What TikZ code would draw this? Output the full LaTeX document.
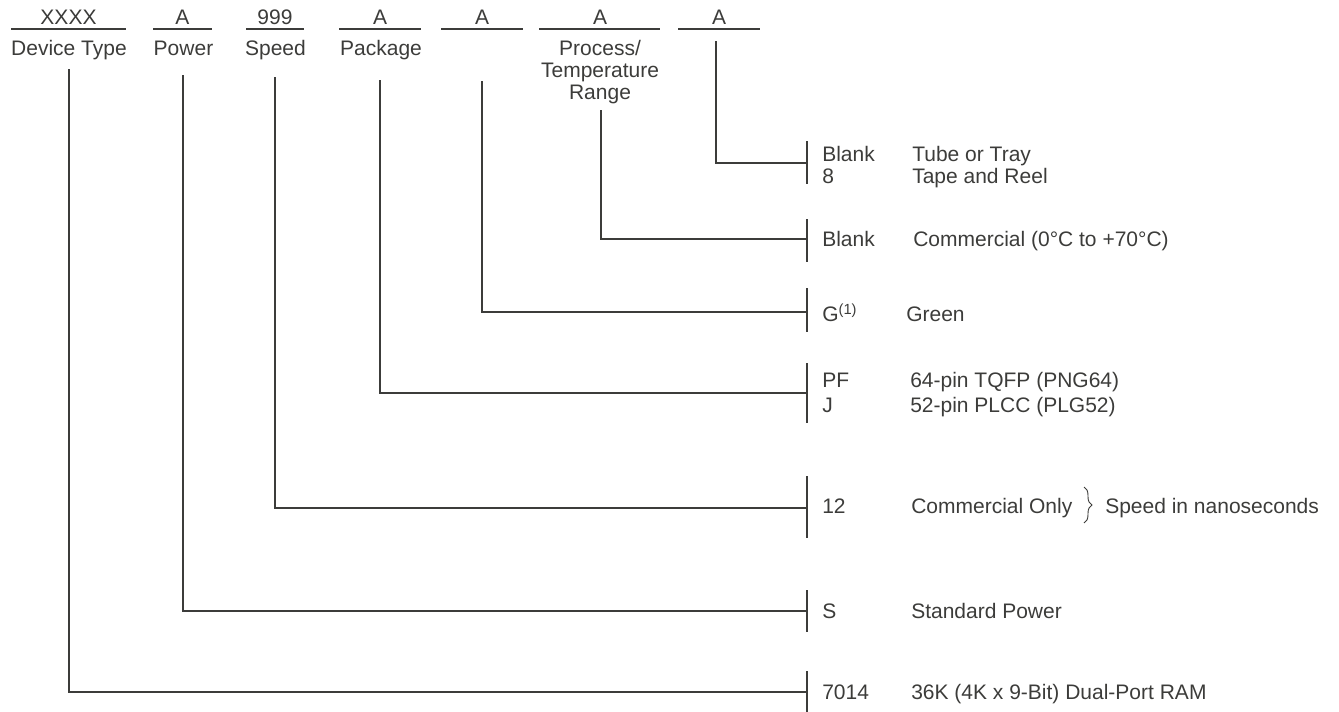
\documentclass[tikz,border=0pt]{standalone}
\usepackage{fontspec}
\setmainfont{Liberation Sans}
\usetikzlibrary{decorations.pathreplacing}
\definecolor{ink}{HTML}{3C3C3A}
\begin{document}
\begin{tikzpicture}[x=0.75pt,y=-0.75pt,
  txt/.style={inner sep=0pt, text=ink, font=\fontsize{15.75}{17}\selectfont},
  code/.style={txt, anchor=base},
  cat/.style={txt, anchor=base},
  opt/.style={txt, anchor=base west},
  rule/.style={draw=ink, line width=1.5pt},
  conn/.style={draw=ink, line width=1.5pt},
  bar/.style={draw=ink, line width=1.5pt}]
\useasboundingbox (0,0) rectangle (1339,711);

% ---- header fields ----
\node[code] (c1) at (68.5,24) {XXXX};
\node[code] (c2) at (182.5,24) {A};
\node[code] (c3) at (275,24) {999};
\node[code] (c4) at (380,24) {A};
\node[code] (c5) at (482,24) {A};
\node[code] (c6) at (600,24) {A};
\node[code] (c7) at (719,24) {A};

\draw[rule] (11,29) -- (126,29);
\draw[rule] (153,29) -- (212,29);
\draw[rule] (246,29) -- (304,29);
\draw[rule] (339,29) -- (421,29);
\draw[rule] (441,29) -- (523,29);
\draw[rule] (539,29) -- (660,29);
\draw[rule] (678,29) -- (760,29);

\node[cat] (l1) at (69,55) {Device Type};
\node[cat] (l2) at (183.5,55) {Power};
\node[cat] (l3) at (275.5,55) {Speed};
\node[cat] (l4) at (381,55) {Package};
\node[cat] (l6a) at (600,55) {Process/};
\node[cat] (l6b) at (600,77) {Temperature};
\node[cat] (l6c) at (600,99) {Range};

% ---- connector start points ----
\coordinate (v1) at (69,69);
\coordinate (v2) at (183,75);
\coordinate (v3) at (275,77);
\coordinate (v4) at (380,80);
\coordinate (v5) at (482,81);
\coordinate (v6) at (601,110);
\coordinate (v7) at (716,41);

% ---- bracket points ----
\coordinate (b7) at (807,163);
\coordinate (b6) at (807,239);
\coordinate (b5) at (807,312);
\coordinate (b4) at (807,393);
\coordinate (b3) at (807,508);
\coordinate (b2) at (807,611);
\coordinate (b1) at (807,692);

\draw[conn] (v7) |- (b7);
\draw[conn] (v6) |- (b6);
\draw[conn] (v5) |- (b5);
\draw[conn] (v4) |- (b4);
\draw[conn] (v3) |- (b3);
\draw[conn] (v2) |- (b2);
\draw[conn] (v1) |- (b1);

\draw[bar] (807,141) -- (807,184);
\draw[bar] (807,219) -- (807,262);
\draw[bar] (807,288) -- (807,332);
\draw[bar] (807,363) -- (807,423);
\draw[bar] (807,476) -- (807,538);
\draw[bar] (807,590) -- (807,632);
\draw[bar] (807,671) -- (807,712);

% ---- options ----
\node[opt] (o7a) at (822,161) {Blank};
\node[opt] (d7a) at (912,161) {Tube or Tray};
\node[opt] (o7b) at (822,183) {8};
\node[opt] (d7b) at (912,183) {Tape and Reel};

\node[opt] (o6) at (822,246) {Blank};
\node[opt] (d6) at (913,246) {Commercial (0°C to +70°C)};

\node[opt] (o5) at (822,321) {G\textsuperscript{(1)}};
\node[opt] (d5) at (906,321) {Green};

\node[opt] (o4a) at (822,387) {PF};
\node[opt] (d4a) at (910,387) {64-pin TQFP (PNG64)};
\node[opt] (o4b) at (822,412) {J};
\node[opt] (d4b) at (910,412) {52-pin PLCC (PLG52)};

\node[opt] (o3) at (822,513) {12};
\node[opt] (d3) at (911,513) {Commercial Only};
\coordinate (brt) at (1084,487);
\coordinate (brb) at (1084,523);
\draw[draw=ink, line width=0.7pt, decorate, decoration={brace, amplitude=6}] (brt) -- (brb);
\node[opt] (s3) at (1105,513) {Speed in nanoseconds};

\node[opt] (o2) at (822,618) {S};
\node[opt] (d2) at (911,618) {Standard Power};

\node[opt] (o1) at (822,699) {7014};
\node[opt] (d1) at (911,699) {36K (4K x 9-Bit) Dual-Port RAM};
\end{tikzpicture}
\end{document}
